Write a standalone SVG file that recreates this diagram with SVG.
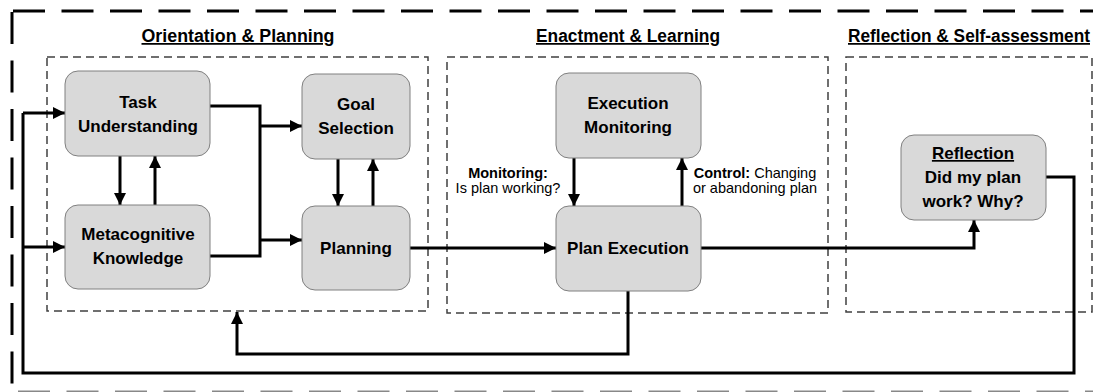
<svg xmlns="http://www.w3.org/2000/svg" width="1093" height="392" viewBox="0 0 1093 392">
<defs>
<marker id="ah" markerUnits="userSpaceOnUse" markerWidth="14" markerHeight="14" refX="12" refY="6" orient="auto">
<path d="M0,0 L12,6 L0,12 z" fill="#000"/>
</marker>
<style>
.outer{fill:none;stroke:#000;stroke-width:3;stroke-dasharray:32 16.5}
.sec{fill:none;stroke:#404040;stroke-width:1.5;stroke-dasharray:8 5}
.node rect{fill:#d9d9d9;stroke:#808080;stroke-width:1}
.nt{font-family:"Liberation Sans",Arial,sans-serif;font-weight:bold;font-size:17px;fill:#000;text-anchor:middle}
.title{font-family:"Liberation Sans",Arial,sans-serif;font-weight:bold;font-size:17.5px;fill:#000;text-anchor:middle;text-decoration:underline}
.lb{font-family:"Liberation Sans",Arial,sans-serif;font-size:14.5px;fill:#000;text-anchor:middle}
.b{font-weight:bold}
.c{fill:none;stroke:#000;stroke-width:3;stroke-linejoin:miter}
.ca{fill:none;stroke:#000;stroke-width:3;marker-end:url(#ah)}
</style>
</defs>
<rect width="1093" height="392" fill="#fff"/>
<g id="frame">
<line class="outer" x1="13" y1="11" x2="1093" y2="11"/>
<line class="outer" x1="12" y1="12" x2="12" y2="392"/>
<line class="outer" x1="18" y1="392" x2="1093" y2="392" style="stroke:#888"/>
</g>
<g id="sections">
<rect class="sec" x="47" y="57" width="381" height="254"/>
<rect class="sec" x="447" y="57" width="381" height="256"/>
<rect class="sec" x="846" y="57" width="246" height="255"/>
<text class="title" x="238" y="42" textLength="193" lengthAdjust="spacingAndGlyphs">Orientation &amp; Planning</text>
<text class="title" x="628" y="42" textLength="184" lengthAdjust="spacingAndGlyphs">Enactment &amp; Learning</text>
<text class="title" x="969" y="42" textLength="242" lengthAdjust="spacingAndGlyphs">Reflection &amp; Self-assessment</text>
</g>
<g id="connectors">
<path class="c" d="M1046,177 H1074 V373 H23 V113"/>
<path class="ca" d="M23,113 H65"/>
<path class="ca" d="M23,247 H65"/>
<path class="ca" d="M120,156 V205"/>
<path class="ca" d="M155,205 V156"/>
<path class="c" d="M210,106 H260 V256 H210"/>
<path class="ca" d="M260,126 H302"/>
<path class="ca" d="M260,240 H302"/>
<path class="ca" d="M338,159 V206"/>
<path class="ca" d="M373,206 V159"/>
<path class="ca" d="M410,248 H556"/>
<path class="ca" d="M574,158 V206"/>
<path class="ca" d="M682,206 V158"/>
<path class="ca" d="M701,248 H974 V220"/>
<path class="ca" d="M628,291 V354 H237 V312"/>
</g>
<g id="task-understanding" class="node">
<rect x="65" y="71" width="145" height="85" rx="13"/>
<text class="nt" x="138" y="108">Task</text>
<text class="nt" x="138" y="132">Understanding</text>
</g>
<g id="metacognitive-knowledge" class="node">
<rect x="65" y="205" width="145" height="84" rx="13"/>
<text class="nt" x="138" y="240">Metacognitive</text>
<text class="nt" x="138" y="264">Knowledge</text>
</g>
<g id="goal-selection" class="node">
<rect x="302" y="74" width="108" height="85" rx="13"/>
<text class="nt" x="356" y="110">Goal</text>
<text class="nt" x="356" y="134">Selection</text>
</g>
<g id="planning" class="node">
<rect x="302" y="206" width="108" height="84" rx="13"/>
<text class="nt" x="356" y="254">Planning</text>
</g>
<g id="execution-monitoring" class="node">
<rect x="556" y="73" width="145" height="85" rx="13"/>
<text class="nt" x="628" y="109">Execution</text>
<text class="nt" x="628" y="133">Monitoring</text>
</g>
<g id="plan-execution" class="node">
<rect x="556" y="206" width="145" height="85" rx="13"/>
<text class="nt" x="628" y="254">Plan Execution</text>
</g>
<g id="reflection" class="node">
<rect x="901" y="135" width="145" height="85" rx="13"/>
<text class="nt" x="973" y="159" text-decoration="underline">Reflection</text>
<text class="nt" x="973" y="183">Did my plan</text>
<text class="nt" x="973" y="207">work? Why?</text>
</g>
<g id="labels">
<text class="lb b" x="508" y="178">Monitoring:</text>
<text class="lb" x="508" y="193">Is plan working?</text>
<text class="lb" x="755" y="178"><tspan class="b">Control:</tspan> Changing</text>
<text class="lb" x="755" y="193">or abandoning plan</text>
</g>
</svg>
